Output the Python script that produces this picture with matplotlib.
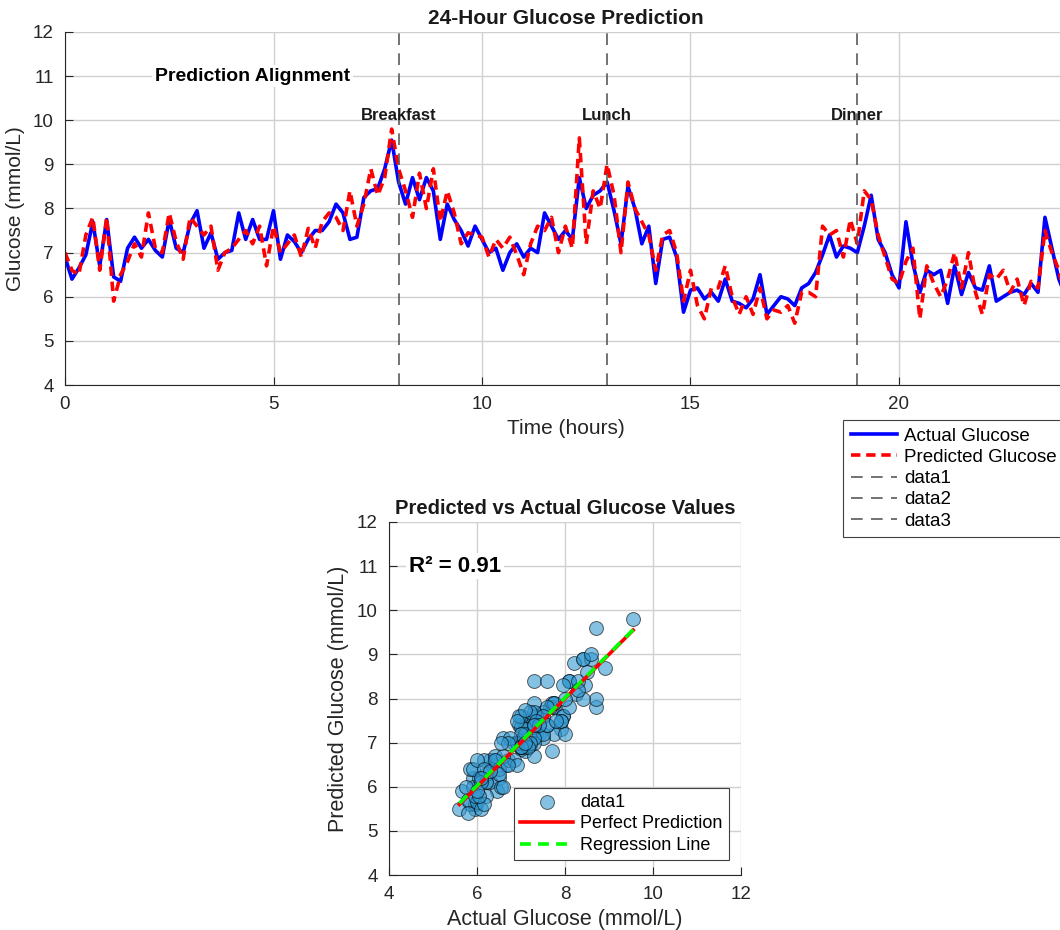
import matplotlib
matplotlib.use("Agg")
import matplotlib.pyplot as plt
import numpy as np

plt.rcParams["font.family"] = ["Liberation Sans", "DejaVu Sans"]

# CGM readings every 10 minutes over one day (mmol/L)
actual_glucose = [
    6.9, 6.4, 6.65, 6.95, 7.7, 6.7, 7.75, 6.45, 6.35, 7.1, 7.35, 7.1,
    7.3, 7.05, 6.9, 7.75, 7.1, 7.0, 7.65, 7.95, 7.1, 7.45, 6.85, 7.0,
    7.05, 7.9, 7.3, 7.75, 7.3, 7.3, 7.95, 6.85, 7.4, 7.25, 7.0, 7.3,
    7.5, 7.5, 7.7, 8.1, 7.9, 7.3, 7.35, 8.25, 8.4, 8.45, 8.9, 9.55,
    8.6, 8.1, 8.7, 8.2, 8.7, 8.4, 7.3, 8.1, 7.75, 7.5, 7.15, 7.6,
    7.3, 7.0, 7.1, 6.6, 7.0, 7.2, 6.9, 7.1, 7.0, 7.9, 7.6, 7.3,
    7.5, 7.3, 8.7, 8.0, 8.3, 8.4, 8.6, 7.95, 7.2, 8.5, 8.0, 7.2,
    7.6, 6.3, 7.3, 7.35, 6.9, 5.65, 6.15, 6.2, 5.95, 6.1, 5.9, 6.4,
    5.9, 5.85, 5.75, 5.95, 6.5, 5.6, 5.8, 6.0, 5.95, 5.8, 6.2, 6.3,
    6.55, 6.95, 7.4, 6.9, 7.15, 7.1, 7.0, 7.6, 8.3, 7.3, 7.0, 6.5,
    6.2, 7.7, 6.75, 6.1, 6.6, 6.5, 6.6, 5.85, 6.7, 6.05, 6.55, 6.2,
    6.15, 6.7, 5.9, 6.0, 6.1, 6.15, 6.05, 6.3, 6.1, 7.8, 7.1, 6.4, 6.0,
]
predicted_glucose = [
    7.0, 6.6, 6.5, 7.4, 7.8, 6.6, 7.8, 5.9, 6.5, 6.8, 7.2, 6.9,
    7.9, 7.1, 7.0, 7.9, 7.25, 6.85, 7.8, 7.6, 7.4, 7.6, 6.6, 7.0,
    7.1, 7.3, 7.5, 7.2, 7.6, 6.7, 7.6, 7.0, 7.2, 7.4, 6.9, 7.55,
    7.1, 7.7, 7.9, 7.8, 7.5, 8.4, 7.6, 8.1, 8.9, 8.3, 8.7, 9.8,
    8.9, 8.4, 7.8, 8.8, 8.0, 8.9, 7.7, 8.4, 7.9, 7.2, 7.45, 7.4,
    7.35, 6.9, 7.3, 7.1, 7.35, 6.95, 6.5, 7.2, 7.6, 7.5, 7.8, 7.0,
    7.6, 7.1, 9.6, 7.2, 8.4, 8.0, 9.0, 8.3, 7.0, 8.6, 8.0, 7.7,
    7.4, 6.6, 7.4, 7.5, 7.0, 5.9, 6.6, 5.8, 5.5, 6.2, 6.2, 6.7,
    6.0, 5.6, 6.0, 5.6, 6.2, 5.5, 5.7, 5.65, 5.8, 5.4, 6.1, 6.1,
    6.0, 7.6, 7.4, 7.5, 6.9, 7.75, 7.2, 8.4, 8.2, 7.4, 6.9, 6.4,
    6.3, 6.8, 7.1, 5.5, 6.7, 6.3, 6.0, 6.4, 7.0, 6.2, 7.0, 6.1,
    5.6, 6.5, 6.4, 6.6, 6.1, 6.4, 5.8, 6.35, 6.2, 7.5, 7.0, 6.6, 5.9,
]
meal_times = [8, 13, 19]
meal_names = ["Breakfast", "Lunch", "Dinner"]
r2_label = "R\u00b2 = 0.91"

actual = np.array(actual_glucose)
predicted = np.array(predicted_glucose)
hours = np.linspace(0, 24, len(actual))

axis_col = "#262626"
grid_col = "#d0d0d0"


def style_axes(ax):
    for side in ["top", "right"]:
        ax.spines[side].set_visible(False)
    for side in ["left", "bottom"]:
        ax.spines[side].set_color(axis_col)
        ax.spines[side].set_linewidth(0.8)
    ax.tick_params(direction="in", length=6, width=0.8, colors=axis_col,
                   labelsize=13.5, pad=8)
    ax.grid(True, color=grid_col, linewidth=1.0)
    ax.set_axisbelow(True)


fig = plt.figure(figsize=(10.6, 9.3), dpi=100)

# ---------- 24 h time series ----------
ax1 = fig.add_axes([65 / 1060, 1 - 385 / 930, 1000.8 / 1060, 353 / 930])
style_axes(ax1)
ax1.plot(hours, actual, color="blue", linewidth=2.6, label="Actual Glucose")
ax1.plot(hours, predicted, color="red", linewidth=2.6,
         linestyle=(0, (2.6, 1.6)), label="Predicted Glucose")
for i, (t, name) in enumerate(zip(meal_times, meal_names)):
    ax1.axvline(t, color="#5a5a5a", linewidth=1.2, linestyle=(0, (7, 5)),
                label=f"data{i + 1}")
    ax1.text(t, 10.1, name, ha="center", va="center", fontsize=12,
             fontweight="bold", color="#1a1a1a")
ax1.text(4.5, 11.0, "Prediction Alignment", ha="center", va="center",
         fontsize=14, fontweight="bold", color="black",
         bbox=dict(facecolor="white", edgecolor="none", pad=2))

ax1.set_xlim(0, 24)
ax1.set_ylim(4, 12)
ax1.set_xticks([0, 5, 10, 15, 20])
ax1.set_yticks(range(4, 13))
ax1.set_xlabel("Time (hours)", fontsize=15, color=axis_col, labelpad=4)
ax1.set_ylabel("Glucose (mmol/L)", fontsize=15, color=axis_col, labelpad=6)
ax1.set_title("24-Hour Glucose Prediction", fontsize=15, fontweight="bold",
              color="#1a1a1a", pad=6)
leg1 = ax1.legend(loc="upper left", bbox_to_anchor=(843 / 1060, 1 - 420 / 930),
                  bbox_transform=fig.transFigure, fontsize=13.5, frameon=True,
                  fancybox=False, framealpha=1, edgecolor="#404040",
                  handlelength=2.5, handletextpad=0.35, labelspacing=0.22,
                  borderpad=0.4, borderaxespad=0)
leg1.get_frame().set_linewidth(0.8)

# ---------- predicted vs actual scatter ----------
ax2 = fig.add_axes([389 / 1060, 1 - 875 / 930, 352 / 1060, 353 / 930])
style_axes(ax2)
ax2.scatter(actual, predicted, s=100, facecolor=(0.2, 0.6, 0.82), alpha=0.6,
            edgecolor="black", linewidth=0.7, label="data1", zorder=3)

lims = np.array([actual.min(), actual.max()])
ax2.plot(lims, lims, color="red", linewidth=2.6, label="Perfect Prediction",
         zorder=4)
slope, intercept = np.polyfit(actual, predicted, 1)
ax2.plot(lims, slope * lims + intercept, color=(0, 1, 0), linewidth=2.6,
         linestyle=(0, (3, 2)), label="Regression Line", zorder=5)

ax2.text(4.45, 11.0, r2_label, ha="left", va="center", fontsize=16,
         fontweight="bold", color="black",
         bbox=dict(facecolor="white", edgecolor="none", pad=2), zorder=6)
ax2.set_xlim(4, 12)
ax2.set_ylim(4, 12)
ax2.set_xticks([4, 6, 8, 10, 12])
ax2.set_yticks(range(4, 13))
ax2.set_xlabel("Actual Glucose (mmol/L)", fontsize=15.5, color=axis_col,
               labelpad=4)
ax2.set_ylabel("Predicted Glucose (mmol/L)", fontsize=15.5, color=axis_col,
               labelpad=6)
ax2.set_title("Predicted vs Actual Glucose Values", fontsize=14.5,
              fontweight="bold", color="#1a1a1a", pad=6)
leg2 = ax2.legend(loc="lower right", bbox_to_anchor=(0.965, 0.042),
                  fontsize=13, frameon=True, fancybox=False, framealpha=1,
                  edgecolor="#404040", handlelength=2.9, handletextpad=0.4,
                  labelspacing=0.25, borderpad=0.35, borderaxespad=0)
leg2.get_frame().set_linewidth(0.8)

fig.savefig("out.png", dpi=100)
plt.close(fig)
